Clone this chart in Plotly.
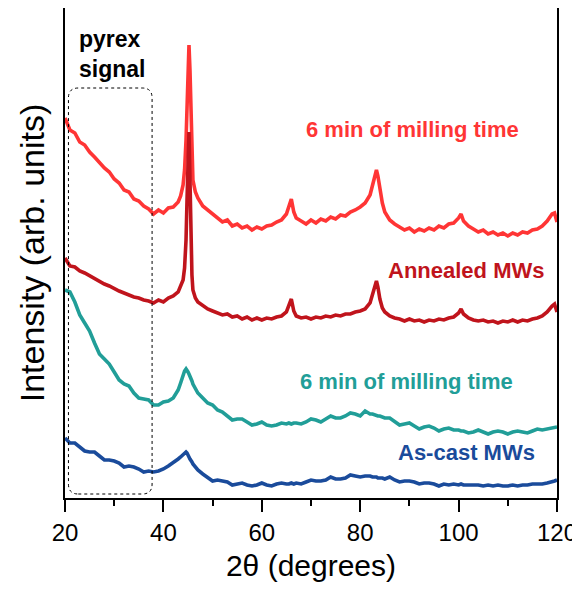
import plotly.graph_objects as go

# 2-theta grid (degrees)
two_theta = ([20, 21, 22, 23, 24, 25, 26, 27, 28, 29, 30, 31, 32, 33, 34, 35, 36, 37, 38, 39, 40, 41, 42, 43]
             + [43.5, 44, 44.3, 44.6, 44.8, 45.0, 45.2, 45.4, 45.6, 45.8, 46, 46.5]
             + [47, 48, 49, 50, 51, 52, 53, 54, 55, 56, 57, 58, 59, 60, 61, 62, 63, 64, 65]
             + [65.5, 66, 66.5]
             + [67, 68, 69, 70, 71, 72, 73, 74, 75, 76, 77, 78, 79, 80, 81, 82]
             + [82.5, 83, 83.3, 83.6, 84, 84.5]
             + [85, 86, 87, 88, 89, 90, 91, 92, 93, 94, 95, 96, 97, 98, 99, 100]
             + [100.5]
             + [101, 102, 103, 104, 105, 106, 107, 108, 109, 110, 111, 112, 113, 114, 115, 116, 117, 118, 119]
             + [119.5, 120])

# intensities (arb. units, vertically offset)
milled_top = ([380, 368, 365, 356, 353, 346, 341, 335, 330, 326, 319, 315, 308, 306, 299, 297, 292, 289, 284, 288, 285, 290, 291, 296]
              + [302, 313, 328, 358, 393, 428, 453, 428, 378, 338, 318, 306]
              + [300, 292, 288, 283, 280, 276, 278, 272, 274, 270, 272, 268, 271, 269, 272, 273, 276, 278, 284]
              + [293, 299, 286]
              + [280, 277, 274, 278, 275, 279, 277, 281, 279, 283, 282, 286, 288, 291, 295, 303]
              + [312, 323, 328, 322, 308, 295]
              + [286, 278, 274, 271, 268, 270, 266, 269, 267, 270, 268, 272, 270, 274, 275, 280]
              + [284]
              + [277, 272, 269, 266, 268, 264, 266, 263, 265, 262, 265, 263, 266, 265, 268, 269, 272, 277, 284]
              + [285, 276])

annealed = ([240, 232, 231, 227, 225, 222, 220, 216, 214, 212, 209, 207, 205, 203, 201, 200, 198, 197, 195, 198, 196, 200, 202, 206]
            + [211, 218, 230, 258, 298, 348, 366, 318, 258, 223, 208, 200]
            + [196, 192, 189, 187, 185, 183, 184, 181, 182, 179, 181, 178, 180, 178, 180, 179, 181, 182, 186]
            + [193, 199, 187]
            + [182, 180, 181, 179, 181, 180, 182, 181, 183, 182, 184, 184, 186, 187, 189, 195]
            + [203, 213, 217, 211, 199, 190]
            + [186, 182, 180, 179, 177, 179, 177, 178, 176, 178, 177, 179, 178, 180, 181, 185]
            + [189]
            + [184, 180, 178, 177, 178, 176, 177, 175, 177, 176, 178, 176, 178, 177, 179, 180, 182, 186, 192]
            + [194, 186])

milled_low = ([208, 206, 196, 183, 175, 167, 155, 144, 139, 134, 126, 118, 114, 112, 105, 100, 99, 98, 93, 93, 96, 97, 100, 108]
              + [115, 123, 127, 129, 128, 126, 124, 122, 119, 117, 114, 109]
              + [105, 100, 95, 93, 88, 86, 82, 78, 79, 79, 76, 73, 74, 76, 73, 72, 73, 75, 74]
              + [75, 74, 75]
              + [75, 74, 76, 79, 78, 76, 79, 82, 80, 80, 82, 85, 84, 82, 87, 84]
              + [84, 83, 83, 82, 82, 81]
              + [80, 80, 77, 73, 74, 75, 72, 69, 71, 72, 70, 67, 69, 70, 68, 68]
              + [67]
              + [67, 65, 66, 68, 66, 64, 66, 67, 66, 64, 66, 67, 66, 65, 67, 69, 68, 69, 70]
              + [70, 71])

as_cast = ([60, 55, 55, 51, 47, 46, 46, 42, 38, 38, 37, 35, 31, 32, 31, 29, 26, 27, 26, 27, 29, 32, 35, 39]
           + [41, 43, 45, 46, 45, 42, 41, 39, 38, 36, 34, 31]
           + [28, 24, 21, 17, 18, 17, 16, 13, 14, 15, 13, 12, 13, 15, 13, 12, 14, 15, 14]
           + [14, 15, 14]
           + [15, 14, 16, 18, 17, 17, 18, 21, 19, 19, 20, 23, 22, 21, 22, 22]
           + [21, 21, 21, 20, 20, 20]
           + [19, 21, 18, 16, 17, 17, 16, 14, 15, 15, 14, 12, 14, 13, 14, 13]
           + [14]
           + [13, 13, 13, 13, 12, 13, 12, 13, 12, 12, 13, 12, 13, 13, 14, 14, 14, 15, 16]
           + [17, 18])

series_names = ["6 min of milling time", "Annealed MWs", "6 min of milling time (as-cast)", "As-cast MWs"]
series_values = [milled_top, annealed, milled_low, as_cast]
series_colors = ["#ff3535", "#c0141c", "#219e98", "#1a4b9b"]

x_ticks = [20, 40, 60, 80, 100, 120]

fig = go.Figure()
for name, vals, col in zip(series_names, series_values, series_colors):
    fig.add_trace(go.Scatter(x=two_theta, y=vals, mode="lines", name=name,
                             line=dict(color=col, width=3.6), showlegend=False))

# rounded dotted box (pyrex signal region)
bx0, bx1, by0, by1 = 20.7, 37.7, 4, 410
rx, ry = 2.0, 10
path = (f"M {bx0+rx},{by0} L {bx1-rx},{by0} Q {bx1},{by0} {bx1},{by0+ry} "
        f"L {bx1},{by1-ry} Q {bx1},{by1} {bx1-rx},{by1} L {bx0+rx},{by1} "
        f"Q {bx0},{by1} {bx0},{by1-ry} L {bx0},{by0+ry} Q {bx0},{by0} {bx0+rx},{by0} Z")
fig.add_shape(type="path", path=path, xref="x", yref="y",
              line=dict(color="black", width=1, dash="dot"))

font_lbl = "Liberation Sans, Arial, sans-serif"
annos = [
    ("pyrex<br>signal", 22.5, 444, "black", "left", 23),
    ("6 min of milling time", 90.7, 369, series_colors[0], "center", 22),
    ("Annealed MWs", 101.6, 228, series_colors[1], "center", 22),
    ("6 min of milling time", 89.4, 117, series_colors[2], "center", 22),
    ("As-cast MWs", 101.7, 46, series_colors[3], "center", 22),
]
for txt, ax_, ay_, col, al, sz in annos:
    fig.add_annotation(x=ax_, y=ay_, xref="x", yref="y", text=f"<b>{txt}</b>",
                       showarrow=False, xanchor=al, align=al,
                       font=dict(family=font_lbl, size=sz, color=col))

fig.update_layout(
    width=572, height=583,
    margin=dict(l=57, r=23, t=0, b=93),
    paper_bgcolor="white", plot_bgcolor="white",
    font=dict(family=font_lbl, color="black"),
    xaxis=dict(range=[20, 120], tickvals=x_ticks, ticks="outside", ticklen=12, tickwidth=2,
               tickcolor="black", showline=True, linecolor="black", linewidth=2, mirror=True,
               showgrid=False, zeroline=False, tickfont=dict(size=24), automargin=False,
               minor=dict(dtick=10, ticks="outside", ticklen=6, tickwidth=2, tickcolor="black"),
               title=dict(text="2θ (degrees)", font=dict(size=30), standoff=10)),
    yaxis=dict(range=[0, 490], showticklabels=False, ticks="", showline=True, linecolor="black",
               linewidth=2, mirror=True, showgrid=False, zeroline=False, automargin=False,
               title=dict(text="Intensity (arb. units)", font=dict(size=34), standoff=8)),
)

fig.write_html("out.html")
